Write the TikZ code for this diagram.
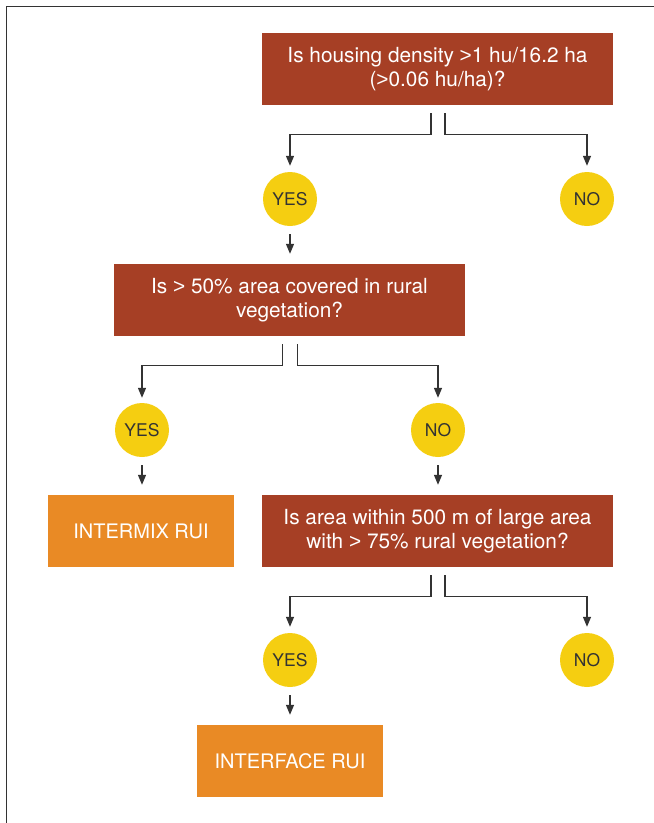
\documentclass[tikz,border=0pt]{standalone}
\usepackage{fontspec}
\setmainfont{TeX Gyre Heros}
\newfontfamily\signfont{Liberation Sans}
\usetikzlibrary{arrows.meta}
\definecolor{qred}{RGB}{166,63,37}
\definecolor{rorange}{RGB}{233,138,37}
\definecolor{ansyellow}{RGB}{245,206,17}
\definecolor{linegray}{RGB}{51,51,51}
\newcommand{\gsign}{{\signfont >}}
\tikzset{question/.style={rectangle,fill=qred,text=white,align=center,
                          minimum width=351pt,minimum height=72pt,
                          font=\fontsize{20.8}{24.5}\selectfont},
         result/.style={rectangle,fill=rorange,text=white,
                        minimum width=186pt,minimum height=72pt,
                        font=\fontsize{20}{24}\selectfont},
         answer/.style={circle,fill=ansyellow,text=linegray,inner sep=0pt,
                        minimum size=54pt,font=\fontsize{17.5}{20}\selectfont},
         conn/.style={draw=linegray,line width=1.3pt,
                      -{Triangle[length=10pt,width=8pt]}}
        }

\begin{document}
\begin{tikzpicture}[x=1pt,y=-1pt]
 \useasboundingbox (0,0) rectangle (654,823);
 \draw[draw=linegray,line width=1.6pt] (6.5,823) -- (6.5,6.5) -- (654,6.5);

 % questions and answers
 \draw (437.5,69)  node[question] (Q1)
              {Is housing density \gsign1 hu/16.2 ha\\(\gsign0.06 hu/ha)?};
 \draw (290,199)   node[answer] (Y1) {YES};
 \draw (587,199)   node[answer] (N1) {NO};

 \draw (289.5,300) node[question] (Q2)
              {Is \gsign{} 50\% area covered in rural\\vegetation?};
 \draw (142,430)   node[answer] (Y2) {YES};
 \draw (438,430)   node[answer] (N2) {NO};

 \draw (141,531)   node[result] (IM) {INTERMIX RUI};
 \draw (437.5,531) node[question] (Q3)
              {Is area within 500 m of large area\\with \gsign{} 75\% rural vegetation?};
 \draw (290,660)   node[answer] (Y3) {YES};
 \draw (587,660)   node[answer] (N3) {NO};

 \draw (290,761)   node[result] (IF) {INTERFACE RUI};

 % branches
 \draw[conn,shorten >=6pt] ([shift={(-6.5,8)}]Q1.south) -- ++(0,21) -| (Y1.north);
 \draw[conn,shorten >=6pt] ([shift={(7.5,8)}]Q1.south)  -- ++(0,21) -| (N1.north);
 \draw[conn,shorten >=5pt] ([shift={(-7,8)}]Q2.south)   -- ++(0,21) -| (Y2.north);
 \draw[conn,shorten >=5pt] ([shift={(8,8)}]Q2.south)    -- ++(0,21) -| (N2.north);
 \draw[conn,shorten >=6pt] ([shift={(-6.5,8)}]Q3.south) -- ++(0,21) -| (Y3.north);
 \draw[conn,shorten >=6pt] ([shift={(7.5,8)}]Q3.south)  -- ++(0,21) -| (N3.north);

 % straight arrows
 \draw[conn,shorten <=8pt,shorten >=10pt] (Y1.south) -- (Y1.south |- Q2.north);
 \draw[conn,shorten <=8pt,shorten >=10pt] (Y2.south) -- (Y2.south |- IM.north);
 \draw[conn,shorten <=8pt,shorten >=10pt] (N2.south) -- (N2.south |- Q3.north);
 \draw[conn,shorten <=8pt,shorten >=10pt] (Y3.south) -- (Y3.south |- IF.north);

\end{tikzpicture}
\end{document}
